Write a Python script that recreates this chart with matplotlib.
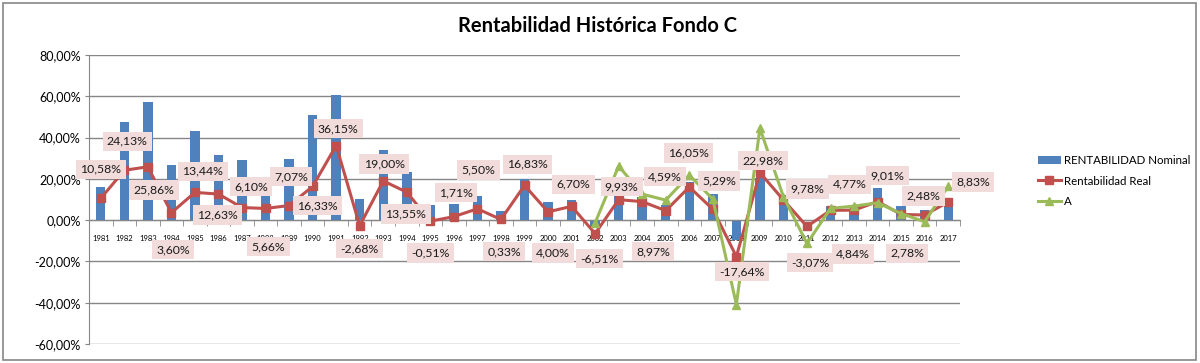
import numpy as np
import matplotlib
matplotlib.use("Agg")
import matplotlib.pyplot as plt
from matplotlib.patches import Rectangle
from matplotlib.ticker import FuncFormatter, MultipleLocator

plt.rcParams['font.family'] = ['Lato', 'DejaVu Sans']

years = list(range(1981, 2018))

# rentabilidad nominal (%)
nominal = [16.0, 47.7, 57.0, 26.7, 43.4, 31.5, 29.1, 17.5, 29.6, 51.0,
           60.5, 10.2, 34.0, 23.5, 7.3, 7.8, 11.6, 4.4, 19.7, 8.9,
           9.7, -3.5, 11.6, 11.3, 7.3, 18.5, 12.6, -9.7, 20.5, 12.1,
           0.3, 6.8, 4.9, 15.4, 6.8, 4.9, 10.5]

# rentabilidad real (%)
real = [10.58, 24.13, 25.86, 3.60, 13.44, 12.63, 6.10, 5.66, 7.07, 16.33,
        36.15, -2.68, 19.00, 13.55, -0.51, 1.71, 5.50, 0.33, 16.83, 4.00,
        6.70, -6.51, 9.93, 8.97, 4.59, 16.05, 5.29, -17.64, 22.98, 9.78,
        -3.07, 4.77, 4.84, 9.01, 2.78, 2.48, 8.83]

# serie A (desde 2002)
serie_a = [np.nan] * 21 + [-1.3, 26.2, 12.6, 9.7, 21.8, 10.2, -40.9, 44.5,
                           11.3, -11.3, 5.7, 6.8, 8.4, 3.2, -0.8, 16.5]

# desplazamiento de las etiquetas (pixeles, x / y hacia arriba)
desplaz = [(0, 29), (3, 29), (6, -23), (2, -37), (8, 21), (-1, -21), (9, 21),
           (3, -38), (2, 29), (5, -19), (2, 17), (0, -23), (1, 17), (-1, -22),
           (0, -32), (2, 24), (1, 39), (3, -32), (3, 21), (5, -41), (2, 22),
           (4, -25), (3, 13), (11, -50), (-1, 34), (-1, 34), (6, 28), (6, -15),
           (3, 12), (24, 11), (3, -36), (19, 26), (-1, -44), (10, 26), (6, -39),
           (-1, 19), (25, 20)]

azul = "#4F81BD"
rojo = "#C0504D"
verde = "#9BBB59"
gris = "#868686"

fig = plt.figure(figsize=(12, 3.63), dpi=100)
ax = fig.add_axes([89 / 1200, 19 / 363, 871 / 1200, 289 / 363])

x = np.arange(len(years))
h_bar = ax.bar(x, nominal, width=0.4, color=azul, label="RENTABILIDAD Nominal", zorder=2)
h_real, = ax.plot(x, real, color=rojo, lw=2.2, marker="s", ms=6, label="Rentabilidad Real", zorder=3)
h_a, = ax.plot(x, serie_a, color=verde, lw=2.2, marker="^", ms=6, label="A", zorder=4)

for xi, v, (dx, dy) in zip(x, real, desplaz):
    txt = f"{v:.2f}%".replace(".", ",")
    ax.annotate(txt, (xi, v), xytext=(dx, dy), textcoords="offset pixels",
                ha="center", va="center", fontsize=8.8, color="#1a1a1a", zorder=6,
                bbox=dict(boxstyle="square,pad=0.35", fc="#F2DCDB", ec="none"))

ax.set_xlim(-0.5, len(years) - 0.5)
ax.set_ylim(-60, 80)
ax.yaxis.set_major_locator(MultipleLocator(20))
ax.yaxis.set_major_formatter(FuncFormatter(lambda v, p: f"{v:.2f}%".replace(".", ",")))
ax.yaxis.grid(True, color=gris, lw=1)
ax.set_axisbelow(True)

ax.set_xticks(x)
ax.set_xticklabels([str(y) for y in years])
ax.set_xticks(np.arange(-0.5, len(years)), minor=True)
ax.tick_params(axis="x", which="major", length=0, pad=11, labelsize=5.5)
ax.tick_params(axis="x", which="minor", length=4, color=gris, direction="out")
ax.tick_params(axis="y", length=3, color=gris, labelsize=9, pad=3)

for s in ["top", "right"]:
    ax.spines[s].set_visible(False)
ax.spines["bottom"].set_position(("data", 0))
ax.spines["bottom"].set_color(gris)
ax.spines["left"].set_color(gris)

fig.text(597 / 1200, 1 - 26 / 363, "Rentabilidad Histórica Fondo C",
         ha="center", va="center", fontsize=14.5, fontweight="bold")

fig.legend([h_bar, h_real, h_a], ["RENTABILIDAD Nominal", "Rentabilidad Real", "A"],
           loc="center left", bbox_to_anchor=(1033 / 1200, 1 - 181 / 363),
           frameon=False, fontsize=8.3, handlelength=2.0, handletextpad=0.3,
           labelspacing=0.8, borderaxespad=0)

fig.patches.append(Rectangle((3 / 1200, 3 / 363), 1193 / 1200, 357 / 363,
                             transform=fig.transFigure, fill=False, ec=gris, lw=1.2))

fig.savefig("out.png", dpi=100)
